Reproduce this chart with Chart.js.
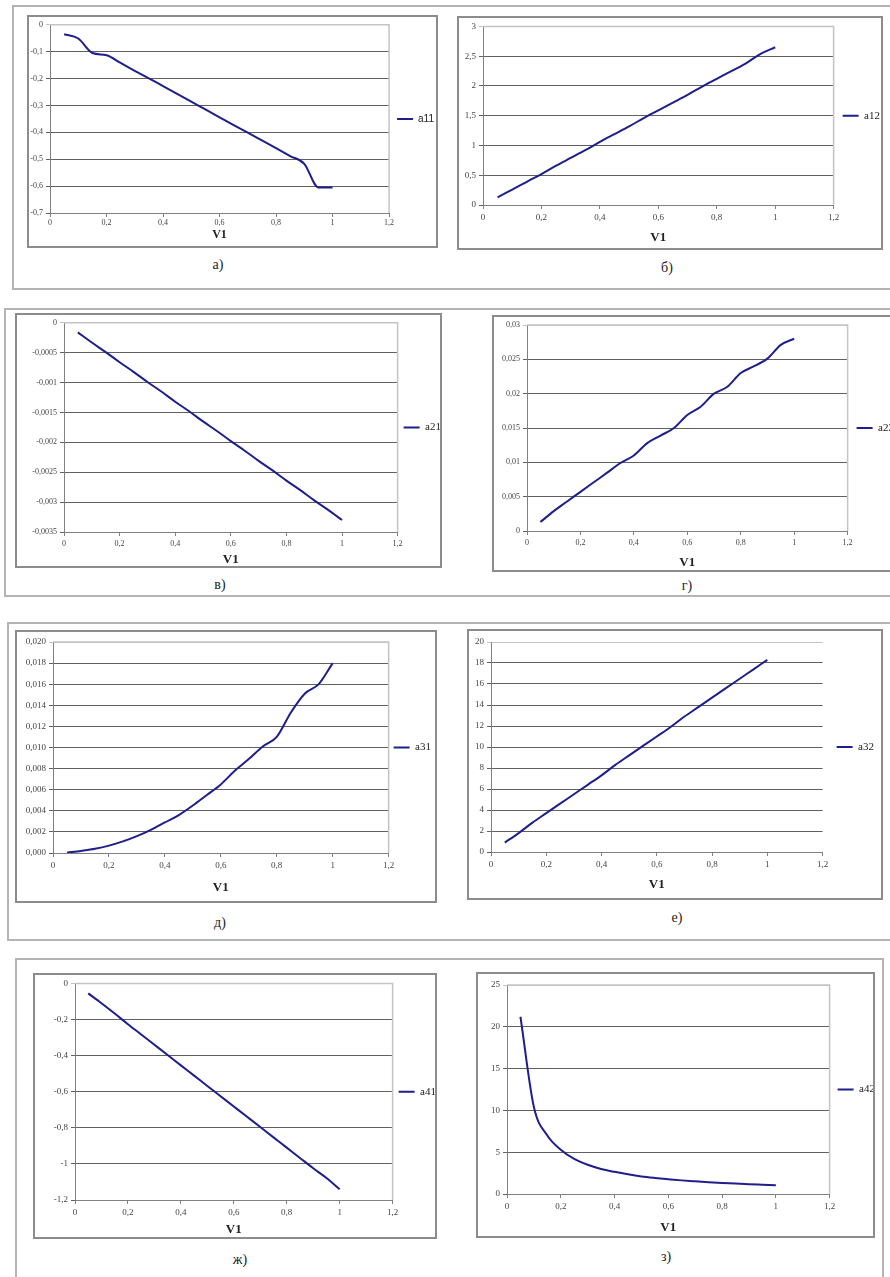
<!DOCTYPE html>
<html>
<head>
<meta charset="utf-8">
<script src="https://cdn.jsdelivr.net/npm/chart.js@4.4.0/dist/chart.umd.min.js"></script>
<style>
  body { margin: 0; background: #fff; }
  #page { position: relative; width: 890px; height: 1277px; overflow: hidden; }
  .frame { position: absolute; border: 2px solid #b4b4b4; box-sizing: border-box; }
  .box { position: absolute; border: 2px solid #8c8c8c; box-sizing: border-box; background: #fff; overflow: hidden; }
  .box canvas { position: absolute; left: 0; top: 0; }
  .cap { position: absolute; font: 14px "Liberation Serif", serif; color: #222; transform: translate(-50%, -50%); }
</style>
</head>
<body>
<div id="page"></div>
<script>
// V1 values (x axis), shared by all eight plots
const v1 = [0.05, 0.1, 0.15, 0.2, 0.25, 0.3, 0.35, 0.4, 0.45, 0.5, 0.55, 0.6, 0.65, 0.7, 0.75, 0.8, 0.85, 0.9, 0.95, 1];
const xTicks = [0, 0.2, 0.4, 0.6, 0.8, 1, 1.2];

// series
const a11 = [-0.035, -0.051, -0.105, -0.113, -0.142, -0.171, -0.199, -0.228, -0.257, -0.286, -0.315, -0.344, -0.373, -0.401, -0.43, -0.459, -0.488, -0.517, -0.605, -0.605];
const a12 = [0.13, 0.26, 0.39, 0.52, 0.66, 0.79, 0.92, 1.06, 1.19, 1.32, 1.46, 1.59, 1.72, 1.85, 1.99, 2.12, 2.25, 2.38, 2.54, 2.65];
const a21 = [-0.00016, -0.00033, -0.00049, -0.00066, -0.00082, -0.00099, -0.00115, -0.00132, -0.00148, -0.00165, -0.00181, -0.00198, -0.00214, -0.00231, -0.00247, -0.00264, -0.0028, -0.00297, -0.00313, -0.0033];
const a22 = [0.0013, 0.0029, 0.0043, 0.0057, 0.0071, 0.0085, 0.0099, 0.011, 0.0128, 0.0139, 0.015, 0.0169, 0.0181, 0.02, 0.021, 0.023, 0.024, 0.0251, 0.0271, 0.028];
const a31 = [0.00003, 0.0002, 0.0004, 0.0007, 0.0011, 0.0016, 0.0022, 0.0029, 0.0036, 0.0045, 0.0055, 0.0065, 0.0078, 0.0089, 0.0101, 0.011, 0.0133, 0.0151, 0.016, 0.018];
const a32 = [0.9, 1.8, 2.8, 3.7, 4.6, 5.5, 6.4, 7.3, 8.3, 9.2, 10.1, 11.0, 11.9, 12.9, 13.8, 14.7, 15.6, 16.5, 17.4, 18.3];
const a41 = [-0.055, -0.11, -0.167, -0.226, -0.283, -0.34, -0.397, -0.454, -0.511, -0.568, -0.625, -0.682, -0.739, -0.796, -0.853, -0.91, -0.967, -1.024, -1.078, -1.14];
const a42 = [21.2, 10.4, 7.0, 5.3, 4.2, 3.5, 3.0, 2.65, 2.35, 2.1, 1.92, 1.77, 1.63, 1.52, 1.42, 1.33, 1.25, 1.18, 1.12, 1.06];

// y axis [min, max, step]
const yA11 = [-0.7, 0, 0.1];
const yA12 = [0, 3, 0.5];
const yA21 = [-0.0035, 0, 0.0005];
const yA22 = [0, 0.03, 0.005];
const yA31 = [0, 0.02, 0.002];
const yA32 = [0, 20, 2];
const yA41 = [-1.2, 0, 0.2];
const yA42 = [0, 25, 5];

const captions = ['а)', 'б)', 'в)', 'г)', 'д)', 'е)', 'ж)', 'з)'];

// layout: row frames and each chart's box / plot area (page pixels)
const frames = [[12, 5, 892, 290], [4, 308, 892, 597], [7, 622, 892, 941], [15, 958, 884, 1290]];
const panels = [
  { name: 'a11', data: a11, y: yA11, box: [27, 15, 438, 248], plot: [50, 23, 389, 213], titleY: 235, cap: [218, 265], sans: true, tick: 8, tpad: 1, title: 12, gap: 8 },
  { name: 'a12', data: a12, y: yA12, box: [457, 16, 883, 250], plot: [483, 25, 833, 205], titleY: 238, cap: [667, 268], tick: 9, gap: 9 },
  { name: 'a21', data: a21, y: yA21, box: [15, 313, 442, 568], plot: [64, 322, 397, 532], titleY: 560, cap: [220, 585], tick: 8, gap: 6 },
  { name: 'a22', data: a22, y: yA22, box: [492, 315, 894, 572], plot: [527, 325, 847, 531], titleY: 563, cap: [687, 586], tick: 8, gap: 9 },
  { name: 'a31', data: a31, y: yA31, box: [15, 630, 437, 903], plot: [53, 642, 388, 853], titleY: 888, cap: [220, 923], tick: 9, gap: 5, fixed: 3 },
  { name: 'a32', data: a32, y: yA32, box: [467, 629, 883, 900], plot: [491, 642, 822, 852], titleY: 885, cap: [677, 918], tick: 9, gap: 14, noFrame: true },
  { name: 'a41', data: a41, y: yA41, box: [33, 973, 437, 1239], plot: [75, 982, 392, 1200], titleY: 1230, cap: [240, 1260], tick: 9, gap: 6 },
  { name: 'a42', data: a42, y: yA42, box: [476, 972, 875, 1238], plot: [507, 985, 829, 1194], titleY: 1228, cap: [666, 1257], tick: 9, gap: 8 }
];

const page = document.getElementById('page');
const NAVY = '#1e1e8c';
const SAMPLE_W = 16;
const measure = document.createElement('canvas').getContext('2d');

// light plot-area border on top and right, like the spreadsheet original
const plotFrame = {
  id: 'plotFrame',
  beforeDatasetsDraw(chart, args, opts) {
    if (!opts.show) return;
    const { ctx, chartArea: { left, top, right, bottom } } = chart;
    ctx.save();
    ctx.strokeStyle = '#c4c4c4';
    ctx.lineWidth = 1.5;
    ctx.beginPath();
    ctx.moveTo(left, top);
    ctx.lineTo(right, top);
    ctx.lineTo(right, bottom);
    ctx.stroke();
    ctx.restore();
  }
};

function fmt(v, fixed) {
  const s = fixed ? v.toFixed(fixed) : String(Number(v.toFixed(6)));
  return s.replace('.', ',');
}

frames.forEach(f => {
  const d = document.createElement('div');
  d.className = 'frame';
  d.style.left = f[0] + 'px';
  d.style.top = f[1] + 'px';
  d.style.width = (f[2] - f[0]) + 'px';
  d.style.height = (f[3] - f[1]) + 'px';
  page.appendChild(d);
});

panels.forEach((p, i) => {
  const [bx1, by1, bx2, by2] = p.box;
  const W = bx2 - bx1 - 4, H = by2 - by1 - 4;
  const ox = bx1 + 2, oy = by1 + 2;
  const pl = p.plot[0] - ox, pt = p.plot[1] - oy, pr = p.plot[2] - ox, pb = p.plot[3] - oy;
  const titleRel = p.titleY - oy;
  const titleSize = p.title || 13;

  const box = document.createElement('div');
  box.className = 'box';
  box.style.left = bx1 + 'px';
  box.style.top = by1 + 'px';
  box.style.width = (bx2 - bx1) + 'px';
  box.style.height = (by2 - by1) + 'px';
  const cv = document.createElement('canvas');
  cv.width = W;
  cv.height = H;
  box.appendChild(cv);
  page.appendChild(box);

  const cap = document.createElement('div');
  cap.className = 'cap';
  cap.textContent = captions[i];
  cap.style.left = p.cap[0] + 'px';
  cap.style.top = p.cap[1] + 'px';
  page.appendChild(cap);

  // legend box width the same way Chart.js measures it, so the plot keeps its place
  const legendFont = p.sans ? { family: 'Liberation Sans', size: 10 } : { family: 'Liberation Serif', size: 11 };
  measure.font = legendFont.size + 'px ' + legendFont.family;
  const legendW = Math.ceil(p.gap + SAMPLE_W + legendFont.size / 2 + measure.measureText(p.name).width + 10);

  const [yMin, yMax, yStep] = p.y;
  const pts = v1.map((x, k) => ({ x: x, y: p.data[k] }));
  const tickFont = { family: 'Liberation Serif', size: p.tick };

  new Chart(cv.getContext('2d'), {
    type: 'line',
    data: {
      datasets: [{
        label: p.name,
        data: pts,
        borderColor: NAVY,
        backgroundColor: NAVY,
        borderWidth: 2,
        pointRadius: 0,
        cubicInterpolationMode: 'monotone',
        fill: false
      }]
    },
    options: {
      responsive: false,
      animation: false,
      events: [],
      layout: { padding: { left: 0, top: pt, right: W - pr - legendW, bottom: 0 } },
      scales: {
        x: {
          type: 'linear',
          min: xTicks[0],
          max: xTicks[xTicks.length - 1],
          afterFit: s => { s.height = H - pb; },
          ticks: { stepSize: 0.2, font: tickFont, color: '#444', padding: p.tpad || 3, maxRotation: 0, autoSkip: false,
                   callback: v => fmt(v) },
          grid: { drawOnChartArea: false, drawTicks: true, tickLength: 4, color: '#808080' },
          border: { color: '#808080', width: 1 },
          title: { display: true, text: 'V1', color: '#222',
                   font: { family: 'Liberation Serif', size: titleSize, weight: 'bold' },
                   padding: { top: 0, bottom: H - titleRel - titleSize * 0.6 } }
        },
        y: {
          min: yMin,
          max: yMax,
          afterFit: s => { s.width = pl; },
          ticks: { stepSize: yStep, font: tickFont, color: '#444', padding: 3, autoSkip: false,
                   callback: v => fmt(v, p.fixed) },
          grid: {
            color: c => (c.tick && Math.abs(c.tick.value - yMax) < 1e-9) ? '#c4c4c4' : '#606060',
            lineWidth: 1,
            tickLength: 4
          },
          border: { color: '#808080', width: 1 }
        }
      },
      plugins: {
        plotFrame: { show: !p.noFrame },
        tooltip: { enabled: false },
        legend: {
          position: 'right',
          fullSize: false,
          maxWidth: legendW,
          labels: {
            usePointStyle: true,
            pointStyle: 'line',
            pointStyleWidth: SAMPLE_W,
            padding: p.gap,
            color: '#222',
            font: legendFont
          }
        }
      }
    },
    plugins: [plotFrame]
  });
});
</script>
</body>
</html>
